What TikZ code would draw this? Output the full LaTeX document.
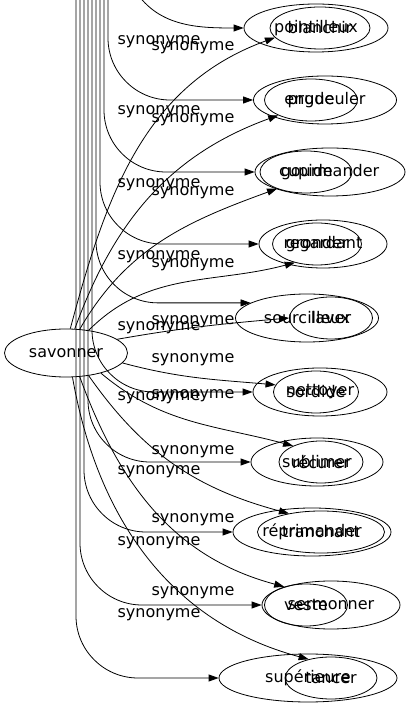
\documentclass[tikz,border=0pt]{standalone}
\usepackage{fontspec}
\setmainfont{DejaVu Sans}
\usetikzlibrary{arrows.meta,shapes.geometric}
\tikzset{
  every picture/.style={line width=0.8pt, line join=round,
    >={Triangle[length=10pt,width=7pt]}},
  % Knoten und Kanten
  mot/.style={draw, ellipse, inner sep=0pt, font=\fontsize{16}{19}\selectfont},
  syn/.style={->},
  lab/.style={inner sep=0pt, font=\fontsize{16}{19}\selectfont},
}
\begin{document}
\begin{tikzpicture}[x=1pt, y=1pt]
  \useasboundingbox (0,0) rectangle (415,707);
  % ---------- Ausgangswort ----------
  \node[mot, minimum width=123pt, minimum height=48pt] (sav) at (66,354) {savonner};
  % ---------- Synonyme (je zwei Knoten übereinander) ----------
  \foreach \k/\y/\ox/\ow/\wa/\ix/\iw/\wb in {
      1/679/316/144/pointilleux/320/100/blanchir,
      2/607/325/143/engueuler/311/93/prude,
      3/535/330/150/gourmander/306/92/cupide,
      4/463/323/128/regardant/317/85/gronder,
      5/389/307/143/sourcilleux/331/83/laver,
      6/315/320/134/nettoyer/316/85/sordide,
      7/245/317/132/sublimer/321/84/récurer,
      8/175/312/158/réprimander/321/127/tranchant,
      9/102/331/138/sermonner/306/83/veste,
      10/29/308/178/supérieure/331/92/tancer} {
    \node[mot, minimum width=\ow pt, minimum height=48pt] (O\k) at (\ox,\y) {\wa};
    \node[mot, minimum width=\iw pt, minimum height=42pt] (I\k) at (\ix,\y) {\wb};
  }
  % ---------- Kanten von savonner ----------
  \foreach \k/\a/\b/\eo/\ei in {
      1/80/192/75/200, 2/70/205/70/200, 3/60/210/60/200, 4/45/220/45/195,
      5/15/180/10/185, 6/350/170/345/175, 7/330/150/320/165, 8/315/150/305/165,
      9/300/140/290/165, 10/285/140/280/165}
    \draw[syn] (sav.\a) to[out=\eo, in=\ei] (I\k.\b);
  % ---------- Kanten von oben ----------
  \coordinate (T1) at (133,720);
  \draw[syn] (T1) to[out=-60, in=180] (O1.west);
  \foreach \k/\x/\b in {2/108/west, 3/104/west, 4/100/west, 5/96/165, 6/92/west,
      7/88/west, 8/84/west, 9/80/west, 10/76/west} {
    \coordinate (T\k) at (\x,720);
    \draw[syn, rounded corners=62pt] (T\k) |- (O\k.\b);
  }
  % ---------- Beschriftungen ----------
  \foreach \y [count=\n] in {665,595,522,450,379,309,235,164,92}
    \node[lab] (la\n) at (159,\y) {synonyme};
  \foreach \y [count=\n] in {659,587,514,442,385,347,311,255,187,114}
    \node[lab] (lb\n) at (193,\y) {synonyme};
\end{tikzpicture}
\end{document}
